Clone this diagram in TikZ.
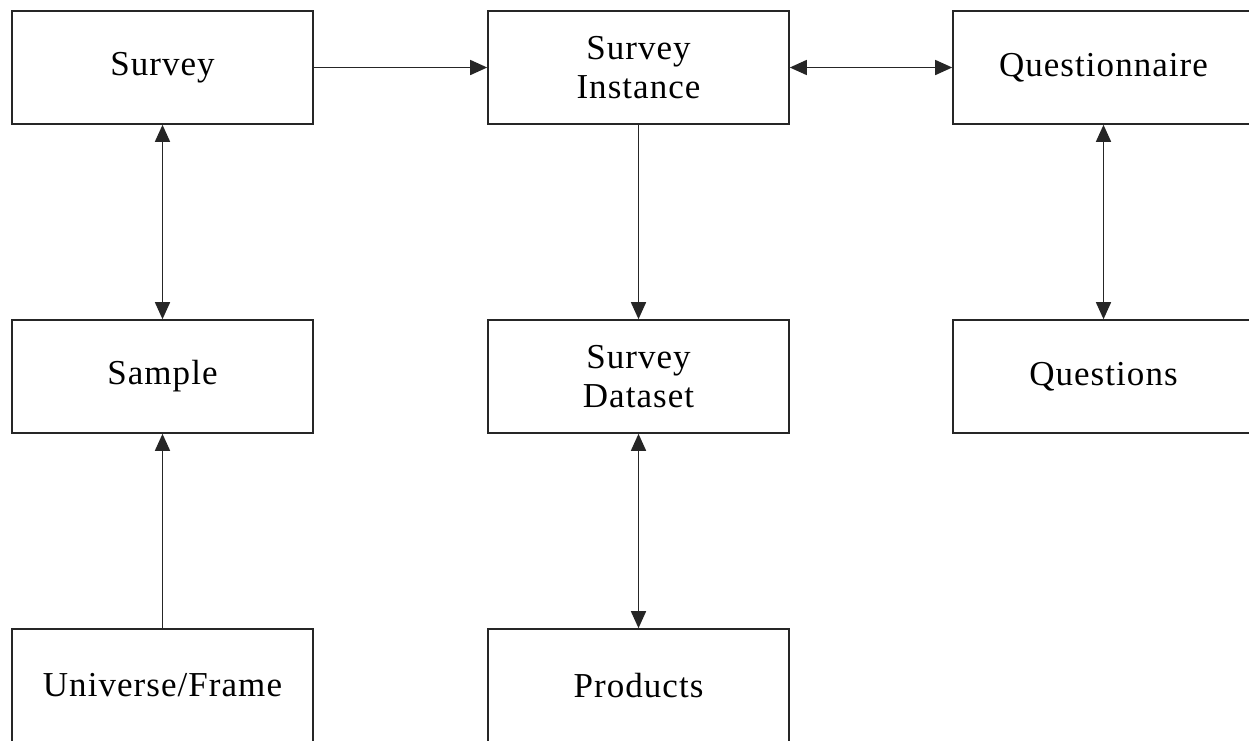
\documentclass[tikz,border=0pt]{standalone}
\usepackage{fontspec}
\setmainfont[LetterSpace=3]{Liberation Serif}
\usetikzlibrary{arrows.meta}
\begin{document}
\begin{tikzpicture}[x=1pt,y=-1pt,
  entity/.style={draw=black!85, line width=1.6pt, minimum width=301pt, minimum height=113pt,
    inner sep=0pt, align=center, font=\fontsize{35}{39}\selectfont},
  link/.style={line width=1.5pt, black!85},
  tip/.style={-{Triangle[length=17pt,width=15pt]}},
  both/.style={{Triangle[length=17pt,width=15pt]}-{Triangle[length=17pt,width=15pt]}}]
  \useasboundingbox (0,0) rectangle (1249,740);
  \clip (0,0) rectangle (1249,740);
  \fill[white] (0,0) rectangle (1249,740);

  % top row
  \node[entity] (survey)   at (162.5,67.5) {Survey};
  \node[entity] (instance) at (638.5,67.5) {Survey\\Instance};
  \node[entity] (quest)    at (1103.5,67.5) {Questionnaire};
  % middle row
  \node[entity] (sample)   at (162.5,376.5) {Sample};
  \node[entity] (dataset)  at (638.5,376.5) {Survey\\Dataset};
  \node[entity] (questions) at (1103.5,376.5) {Questions};
  % bottom row
  \node[entity] (universe) at (162.5,685.5) {Universe/Frame};
  \node[entity] (products) at (638.5,685.5) {Products};

  % connectors
  \draw[link,tip]  (survey.east) -- (instance.west);
  \draw[link,both] (instance.east) -- (quest.west);
  \draw[link,both] (survey.south) -- (sample.north);
  \draw[link,tip]  (universe.north) -- (sample.south);
  \draw[link,tip]  (instance.south) -- (dataset.north);
  \draw[link,both] (dataset.south) -- (products.north);
  \draw[link,both] (quest.south) -- (questions.north);
\end{tikzpicture}
\end{document}
